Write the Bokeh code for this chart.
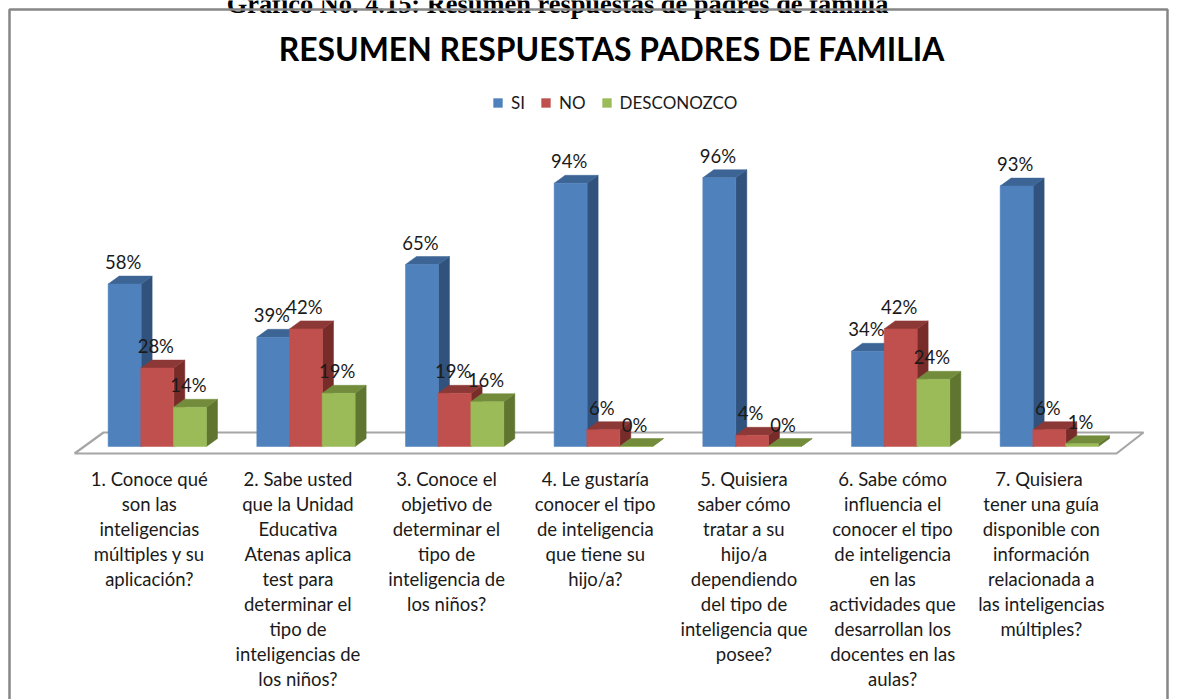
from bokeh.plotting import figure
from bokeh.embed import file_html
from bokeh.resources import INLINE
from bokeh.models import Legend, LegendItem
from bokeh.core.properties import value

TITLE = "RESUMEN RESPUESTAS PADRES DE FAMILIA"
CAPTION = "Gráfico No. 4.15: Resumen respuestas de padres de familia"
SERIES = ["SI", "NO", "DESCONOZCO"]
SI = [58, 39, 65, 94, 96, 34, 93]
NO = [28, 42, 19, 6, 4, 42, 6]
DESCONOZCO = [14, 19, 16, 0, 0, 24, 1]
CATEGORIES = [
    ["1. Conoce qué", "son las", "inteligencias", "múltiples y su", "aplicación?"],
    ["2. Sabe usted", "que la Unidad", "Educativa", "Atenas aplica", "test para", "determinar el", "tipo de", "inteligencias de", "los niños?"],
    ["3. Conoce el", "objetivo de", "determinar el", "tipo de", "inteligencia de", "los niños?"],
    ["4. Le gustaría", "conocer el tipo", "de inteligencia", "que tiene su", "hijo/a?"],
    ["5. Quisiera", "saber cómo", "tratar a su", "hijo/a", "dependiendo", "del tipo de", "inteligencia que", "posee?"],
    ["6. Sabe cómo", "influencia el", "conocer el tipo", "de inteligencia", "en las", "actividades que", "desarrollan los", "docentes en las", "aulas?"],
    ["7.  Quisiera", "tener una guía", "disponible con", "información", "relacionada a", "las inteligencias", "múltiples?"],
]
FRONT = ["#4F81BD", "#C0504D", "#9BBB59"]
SIDE = ["#31527C", "#772C2A", "#5F7530"]
TOP = ["#3C6494", "#8C3836", "#728C3C"]

W, H = 1199, 699
PITCH = 148.67           # px per category
PX_PER_PCT = 2.8         # px per percent
X0, Y0 = 156.8, 446      # px position of category 0 and of 0 %
px = lambda n: n / PITCH
pc = lambda n: n / PX_PER_PCT

p = figure(width=W, height=H, output_backend="svg", toolbar_location=None,
           x_range=(-X0 / PITCH, (W - X0) / PITCH),
           y_range=((Y0 - H) / PX_PER_PCT, Y0 / PX_PER_PCT),
           min_border=0, outline_line_color=None)
p.axis.visible = False
p.grid.visible = False

# page frame and floor
xl, xr = (9 - X0) / PITCH, (1167 - X0) / PITCH
yt, yb = (Y0 - 9) / PX_PER_PCT, (Y0 - H - 4) / PX_PER_PCT
fx = [px(74 - X0), px(103 - X0), px(1143 - X0), px(1116 - X0), px(74 - X0)]
fy = [pc(-7), pc(14), pc(14), pc(-7), pc(-7)]
p.line(fx, fy, line_color="#A6A6A6", line_width=2.2)

BAR = px(33)
STEP = px(32.67)
DX, DY = px(11), pc(8)
legend_items = []
for s, vals in enumerate([SI, NO, DESCONOZCO]):
    cx = [i + (s - 1) * STEP for i in range(len(vals))]
    side_x, side_y, top_x, top_y = [], [], [], []
    for x, v in zip(cx, vals):
        l, r = x - BAR / 2, x + BAR / 2
        side_x.append([r, r + DX, r + DX, r])
        side_y.append([0, DY, v + DY, v])
        top_x.append([l, r, r + DX, l + DX])
        top_y.append([v, v, v + DY, v + DY])
    p.patches(side_x, side_y, fill_color=SIDE[s], line_color=SIDE[s], line_width=0.5)
    p.patches(top_x, top_y, fill_color=TOP[s], line_color=TOP[s], line_width=0.5)
    r = p.vbar(x=cx, top=vals, bottom=0, width=BAR, fill_color=FRONT[s],
               line_color=FRONT[s], line_width=0.5)
    legend_items.append(LegendItem(label=SERIES[s], renderers=[r]))

for s, vals in enumerate([SI, NO, DESCONOZCO]):
    cx = [i + (s - 1) * STEP for i in range(len(vals))]
    p.text(cx, vals, text=[f"{v}%" for v in vals], text_align="center",
           text_baseline="middle", y_offset=-22, x_offset=-1.5,
           text_font=value("Lato"), text_font_size="18.5px", text_color="#1a1a1a")

# category labels, one text per wrapped line
lx, ly, lt = [], [], []
for i, lines in enumerate(CATEGORIES):
    for j, t in enumerate(lines):
        lx.append(i - px(8))
        ly.append(pc(Y0 - 478 - 25 * j))
        lt.append(t)
p.text(lx, ly, text=lt, text_align="center", text_baseline="middle",
       text_font=value("Lato"), text_font_size="18.5px", text_color="#1a1a1a")

p.text([px(611 - X0)], [pc(Y0 - 48.5)], text=[TITLE], text_align="center", text_baseline="middle",
       text_font=value("Lato"), text_font_size="31.9px", text_font_style="bold", text_color="#000000")
p.text([px(557 - X0)], [pc(Y0 - 3.5)], text=[CAPTION], text_align="center", text_baseline="alphabetic",
       text_font=value("Liberation Serif"), text_font_size="26.4px", text_font_style="bold", text_color="#000000")
p.line([xl, xl, xr, xr], [yb, yt, yt, yb], line_color="#868686", line_width=2.5)

legend = Legend(items=legend_items, orientation="horizontal", location=(492, H - 113),
                background_fill_alpha=0, border_line_color=None, glyph_width=11, glyph_height=11,
                label_standoff=8, label_width=0, spacing=15, padding=0, margin=0,
                label_text_font="Lato", label_text_font_size="17px", label_text_color="#1a1a1a")
p.add_layout(legend, "center")

open("out.html", "w").write(file_html(p, INLINE))
